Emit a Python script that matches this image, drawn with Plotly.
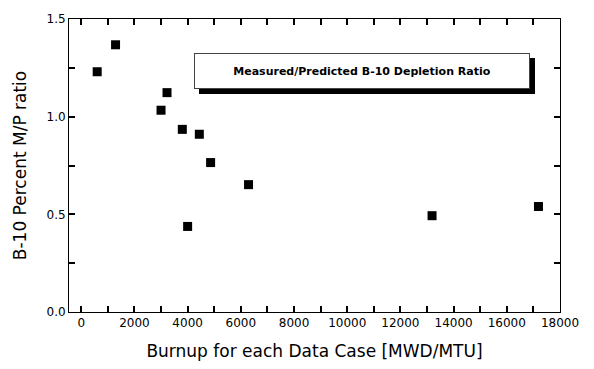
import plotly.graph_objects as go

burnup = [600, 1290, 3000, 3225, 3800, 4440, 4864, 6290, 4000, 13190, 17190]
mp_ratio = [1.23, 1.368, 1.033, 1.123, 0.935, 0.91, 0.765, 0.652, 0.438, 0.493, 0.54]

x_tick_vals = list(range(0, 18001, 1000))
x_tick_text = [str(v) if v % 2000 == 0 else "" for v in x_tick_vals]
y_tick_vals = [0.0, 0.25, 0.5, 0.75, 1.0, 1.25, 1.5]
y_tick_text = ["0.0", "", "0.5", "", "1.0", "", "1.5"]
box_text = "Measured/Predicted B-10 Depletion Ratio"
x_title = "Burnup for each Data Case [MWD/MTU]"
y_title = "B-10 Percent M/P ratio"

fig = go.Figure()
fig.add_trace(go.Scatter(x=burnup, y=mp_ratio, mode="markers",
    marker=dict(symbol="square", size=9, color="black")))

fig.update_xaxes(range=[-460, 18000], tickmode="array", tickvals=x_tick_vals, ticktext=x_tick_text,
                 showline=True, linecolor="black", mirror="ticks",
                 ticks="inside", ticklen=6, tickwidth=1.5, tickcolor="black",
                 title_text=x_title, title_font_size=17)
fig.update_yaxes(range=[0, 1.5], tickmode="array", tickvals=y_tick_vals, ticktext=y_tick_text,
                 showline=True, linecolor="black", mirror="ticks",
                 ticks="inside", ticklen=6, tickwidth=1.5, tickcolor="black",
                 title_text=y_title, title_font_size=17)

# Title box: shadow annotation, then white bordered annotation on top
fig.add_annotation(xref="paper", yref="paper", x=0.597, y=0.821,
                   xanchor="center", yanchor="middle", xshift=5, yshift=-5,
                   text="<b>" + box_text + "</b>", showarrow=False,
                   width=330, height=30, bgcolor="black", bordercolor="black",
                   borderwidth=1, borderpad=2, font=dict(size=11, color="black"))
fig.add_annotation(xref="paper", yref="paper", x=0.597, y=0.821,
                   xanchor="center", yanchor="middle",
                   text="<b>" + box_text + "</b>", showarrow=False,
                   width=330, height=30, bgcolor="white", bordercolor="#444444",
                   borderwidth=1, borderpad=2, font=dict(size=11, color="black"))

fig.update_layout(width=594, height=369, margin=dict(l=69, r=34, t=14, b=56),
                  plot_bgcolor="white",
                  font=dict(family="DejaVu Sans, sans-serif", size=12, color="black"))
fig.write_html("out.html")
